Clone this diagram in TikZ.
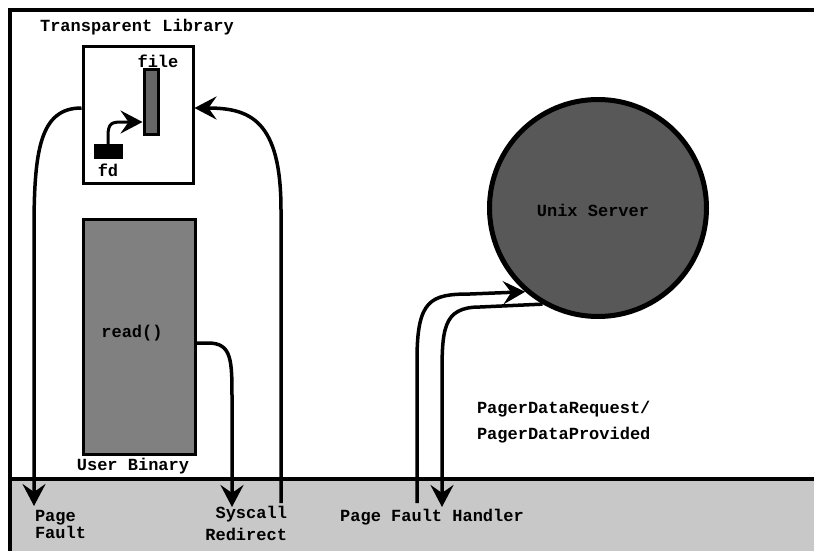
\documentclass[tikz,border=0pt]{standalone}
\usepackage{fontspec}
\setmonofont{Liberation Mono}
\usetikzlibrary{arrows.meta}

\begin{document}
\begin{tikzpicture}[x=1pt,y=-1pt,line cap=rect,
    lbl/.style={inner sep=0, outer sep=0, font=\fontsize{17pt}{19pt}\ttfamily\bfseries\selectfont},
    box/.style={draw, line width=3pt, rectangle, inner sep=0},
    flow/.style={line width=3.5pt, line cap=butt, -{Stealth[length=22pt,width=23pt,inset=8pt]}}]
					\definecolor{custcol_c8_c8_c8}{RGB}{200, 200, 200}
					\definecolor{custcol_80_80_80}{RGB}{128, 128, 128}
					\definecolor{custcol_66_66_66}{RGB}{102, 102, 102}
					\definecolor{custcol_58_58_58}{RGB}{88, 88, 88}
					\useasboundingbox (0,0) rectangle (814,551);
					% kernel band and outer frame
					\fill [custcol_c8_c8_c8]  (10,479) rectangle (820,560);
					\draw [line width=4pt]  (820,10) -- (10,10) -- (10,560);
					\draw [line width=4pt]  (10,479) -- (820,479);
					% boxes
					\node[box, minimum width=110, minimum height=136] (lib) at (138,115) {};
					\node[box, fill=custcol_66_66_66, minimum width=14, minimum height=64] (filebar) at (151,102) {};
					\node[box, line width=0pt, fill=black, minimum width=28, minimum height=14] (fdbox) at (108,151) {};
					\node[box, fill=custcol_80_80_80, minimum width=112, minimum height=235] (binary) at (139,337) {};
					\node[circle, draw, line width=5pt, fill=custcol_58_58_58, minimum size=217, inner sep=0] (server) at (598,208) {};
					% texts
					\node[lbl, anchor=base] (liblbl) at (137,32) {Transparent Library};
					\node[lbl, anchor=base] (filelbl) at (158,67) {file};
					\node[lbl, anchor=base] (fdlbl) at (108,176) {fd};
					\node[lbl, anchor=base] (readlbl) at (132,337) {read()};
					\node[lbl, anchor=base] (binlbl) at (133,470) {User Binary};
					\node[lbl, anchor=base] (srvlbl) at (593,216) {Unix Server};
					\node[lbl, anchor=base west, align=left] (pflbl) at (35,538) {Page\\[-2pt]Fault};
					\node[lbl, anchor=base east, align=right] (sclbl) at (287,540) {Syscall\\[3pt]Redirect};
					\node[lbl, anchor=base] (pfhlbl) at (432,521) {Page Fault Handler};
					\node[lbl, anchor=base west, align=left] (pdlbl) at (477,439) {PagerDataRequest/\\[7pt]PagerDataProvided};
					% free ends in the band
					\coordinate (pfend) at (34,506);
					\coordinate (scstart) at (281,503);
					\coordinate (rdend) at (232,507);
					\coordinate (rqstart) at (417,503);
					\coordinate (prend) at (442,507);
					% flows
					\draw [flow]  ([yshift=7pt]lib.west) .. controls (40,108) and (34,150) .. (34,230) -- (pfend);
					\draw [flow]  (scstart) -- (281,210) .. controls (281,120) and (250,108) .. ([yshift=7pt]lib.east);
					\draw [flow]  ([yshift=-6pt]binary.east) -- (208,343) .. controls (232,343) and (232,360) .. (232,400) -- (rdend);
					\draw [flow, line width=3pt]  (fdbox.north) -- (108,136) .. controls (108,123) and (112,122) .. (122,122) -- ([yshift=-20pt]filebar.west);
					\draw [flow]  (rqstart) -- (417,360) .. controls (417,300) and (430,294) .. (470,294) -- (server.229);
					\draw [flow]  (server.240) -- (480,307) .. controls (442,307) and (442,330) .. (442,380) -- (prend);
				\end{tikzpicture}
\end{document}
